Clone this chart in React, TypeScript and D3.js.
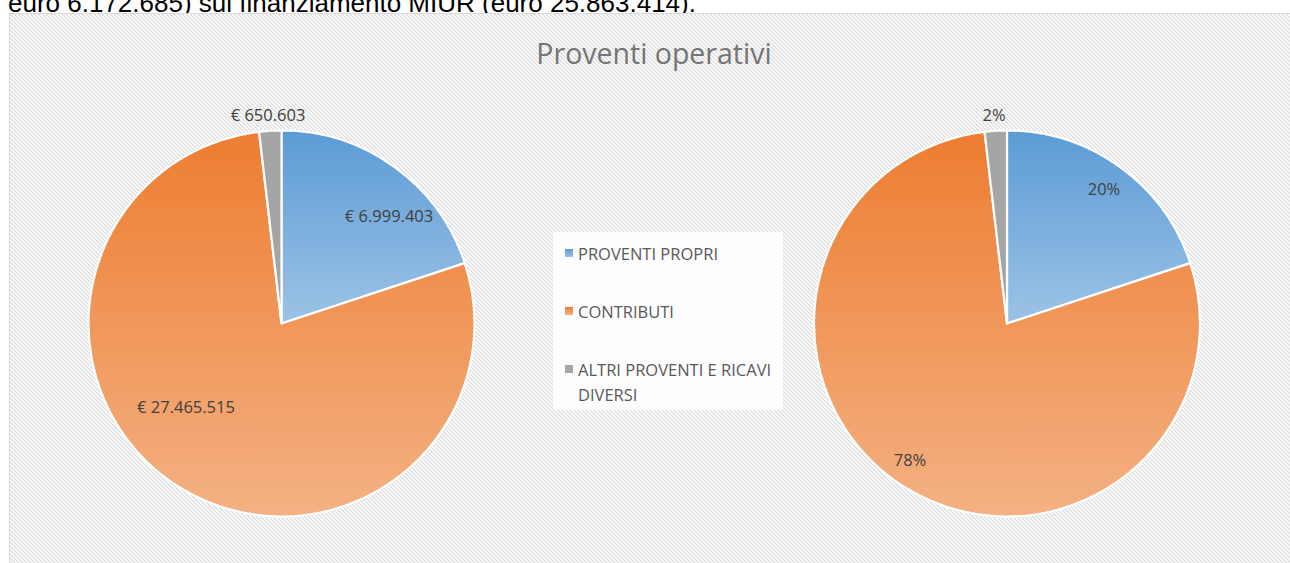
import React from "react";
import * as d3 from "d3";

const categories = ["PROVENTI PROPRI", "CONTRIBUTI", "ALTRI PROVENTI E RICAVI DIVERSI"];
const values = [6999403, 27465515, 650603];
const valueLabels = ["€ 6.999.403", "€ 27.465.515", "€ 650.603"];
const title = "Proventi operativi";
const topText = "euro 6.172.685) sul finanziamento MIUR (euro 25.863.414).";

const colorsTop = ["#5B9BD5", "#ED7D31", "#A5A5A5"];
const colorsBottom = ["#9DC3E6", "#F4B183", "#A5A5A5"];

const W = 1290;
const H = 563;
const R = 193;
const leftC = { x: 281.5, y: 323.5 };
const rightC = { x: 1007, y: 323.5 };
const FONT = "'Open Sans', 'Liberation Sans', sans-serif";

const fmtPct = (v: number, tot: number) => `${Math.round((v / tot) * 100)}%`;

function Pie({ cx, cy, labels, labelPos, idp }: { cx: number; cy: number; labels: string[]; labelPos: [number, number][]; idp: string }) {
  const pie = d3.pie<number>().sort(null).value((d) => d);
  const arcs = pie(values);
  const arc = d3.arc<d3.PieArcDatum<number>>().innerRadius(0).outerRadius(R);
  return (
    <g transform={`translate(${cx},${cy})`}>
      {arcs.map((a, i) => (
        <path key={i} d={arc(a) || ""} fill={`url(#${idp}-g${i})`} stroke="#fff" strokeWidth={2.2} strokeLinejoin="round" />
      ))}
      {arcs.map((a, i) => (
        <text key={"t" + i} x={labelPos[i][0] - cx} y={labelPos[i][1] - cy} textAnchor="middle" dominantBaseline="central" fontSize={16.5} fill="#404040" fontFamily={FONT}>
          {labels[i]}
        </text>
      ))}
    </g>
  );
}

export default function App() {
  const total = d3.sum(values);
  const pctLabels = values.map((v) => fmtPct(v, total));
  const gradDefs = (idp: string) =>
    values.map((_, i) => (
      <linearGradient key={idp + i} id={`${idp}-g${i}`} x1="0" y1="0" x2="0" y2="1">
        <stop offset="0" stopColor={colorsTop[i]} />
        <stop offset="1" stopColor={colorsBottom[i]} />
      </linearGradient>
    ));
  const legendY = [253, 311, 369];
  return (
    <svg width={W} height={H} style={{ position: "absolute", left: 0, top: 0, background: "#fff" }}>
      <defs>
        <pattern id="hatch" width="4" height="4" patternUnits="userSpaceOnUse">
          <rect width="4" height="4" fill="#ffffff" />
          <path d="M-1,-1 L5,5 M-1,3 L1,5 M3,-1 L5,1" stroke="#dcdcdc" strokeWidth={1.3} />
        </pattern>
        {gradDefs("L")}
        {gradDefs("R")}
      </defs>
      <text x={8} y={12} fontSize={26} fontFamily="'Liberation Sans', Arial, sans-serif" fill="#000">
        {topText}
      </text>
      <rect x={9.5} y={13.5} width={1300} height={600} fill="url(#hatch)" stroke="#d9d9d9" strokeWidth={1} />
      <text x={654} y={53} textAnchor="middle" dominantBaseline="central" fontSize={28.5} fill="#757575" fontFamily={FONT}>
        {title}
      </text>
      <Pie cx={leftC.x} cy={leftC.y} idp="L" labels={valueLabels} labelPos={[[389, 215], [186, 406], [268, 114]]} />
      <Pie cx={rightC.x} cy={rightC.y} idp="R" labels={pctLabels} labelPos={[[1104, 188], [910, 459], [994, 114]]} />
      <rect x={553} y={232} width={230} height={178} fill="#ffffff" opacity={0.85} />
      {categories.map((c, i) => {
        const lines = i === 2 ? ["ALTRI PROVENTI E RICAVI", "DIVERSI"] : [c];
        return (
          <g key={c}>
            <rect x={565} y={legendY[i] - 4} width={8} height={8} fill={`url(#L-g${i})`} />
            {lines.map((l, k) => (
              <text key={k} x={578} y={legendY[i] + k * 25} dominantBaseline="central" fontSize={16.5} fill="#595959" fontFamily={FONT}>
                {l}
              </text>
            ))}
          </g>
        );
      })}
    </svg>
  );
}
